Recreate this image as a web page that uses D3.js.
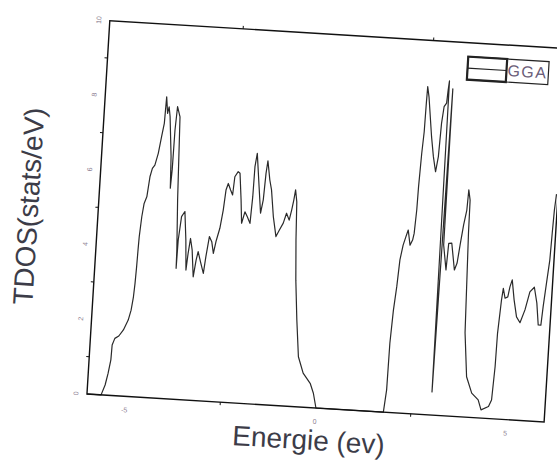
<!DOCTYPE html>
<html><head><meta charset="utf-8">
<script src="https://cdn.jsdelivr.net/npm/d3@7"></script>
<style>html,body{margin:0;padding:0;background:#fff}</style>
</head><body>
<script>
// ---- data ----
const energy = [-6.00,-5.63,-5.54,-5.48,-5.43,-5.42,-5.36,-5.26,-5.15,-5.04,-4.98,-4.94,-4.92,-4.905,-4.895,-4.885,-4.85,-4.81,-4.75,-4.70,-4.65,-4.59,-4.52,-4.46,-4.41,-4.40,-4.39,-4.34,-4.31,-4.27,-4.18,-4.15,-4.13,-4.12,-4.09,-4.01,-3.94,-3.88,-3.87,-3.86,-3.81,-3.73,-3.66,-3.61,-3.58,-3.54,-3.48,-3.41,-3.36,-3.32,-3.23,-3.15,-3.11,-3.05,-2.98,-2.92,-2.87,-2.79,-2.73,-2.69,-2.64,-2.57,-2.51,-2.48,-2.40,-2.35,-2.28,-2.23,-2.16,-2.09,-2.01,-1.98,-1.97,-1.93,-1.83,-1.75,-1.70,-1.67,-1.64,-1.56,-1.50,-1.41,-1.31,-1.23,-1.14,-1.07,-0.99,-0.94,-0.90,-0.87,-0.82,-0.78,-0.72,-0.63,-0.53,-0.38,-0.18,-0.08,0.01,
  1.78,1.83,1.84,1.88,1.93,1.97,2.03,2.09,2.14,2.21,2.27,2.30,2.33,2.34,2.37,2.40,2.41,2.42,2.47,2.60,2.68,2.76,2.81,2.84,2.88,2.94,2.96,2.98,3.02,3.08,3.09,3.19,3.22,3.30,3.41,3.47,3.52,3.58,3.64,3.66,3.71,3.72,3.79,3.90,4.06,4.24,4.33,4.52,4.59,4.63,4.64,4.69,4.72,4.78,4.85,4.89,4.94,5.02,5.11,5.21,5.32,5.42,5.53,5.62,5.69,5.76,5.79,5.84,5.89,5.91,5.93,5.96];
const tdos = [0,0,0.27,0.59,0.95,1.35,1.53,1.60,1.77,2.04,2.31,2.67,3.03,3.48,3.93,4.28,4.82,5.18,5.36,5.90,6.13,6.22,6.54,6.99,7.35,7.71,8.06,7.62,7.80,7.54,6.47,5.63,6.12,7.19,7.82,7.55,5.33,3.99,3.50,4.26,4.89,5.03,4.27,3.47,3.92,4.32,4.02,3.30,3.75,3.98,3.67,3.41,3.86,4.40,4.27,3.96,4.28,4.64,5.13,5.67,5.85,5.68,5.55,6.04,6.18,6.14,5.43,4.81,5.12,4.99,4.82,5.53,6.34,6.70,5.81,5.11,5.47,6.18,6.52,6.01,5.75,5.04,4.51,4.69,4.88,5.15,4.97,5.25,5.52,5.79,5.47,4.45,3.38,2.32,1.34,0.91,0.65,0.39,0,
  0,0.60,1.85,2.74,3.37,4.09,4.49,4.72,4.90,4.50,4.64,4.82,5.45,6.07,6.97,7.55,8.31,8.76,8.49,7.43,6.90,6.50,6.91,7.80,8.25,8.35,8.70,8.95,0.62,8.74,4.56,3.90,4.61,4.62,3.91,4.10,4.59,5.13,5.53,6.07,5.80,4.92,2.25,1.08,0.65,0.48,0.22,0.32,0.50,1.40,2.29,3.18,3.50,3.24,3.28,3.55,3.74,3.21,2.76,2.61,2.96,3.45,3.58,3.16,2.58,2.58,3.07,3.71,4.33,5.05,5.67,6.10];
const xLabels = [-5, 0, 5];
const yLabels = [0, 2, 4, 6, 8, 10];
const xTicks = [-2.5, 2.5];
const yTicks = [1, 3, 5, 7, 9];
const seriesName = "GGA";
const xTitle = "Energie (ev)";
const yTitle = "TDOS(stats/eV)";

// ---- drawing ----
const Wd = 557, Ht = 464;
const W = 458, H = 374;
const svg = d3.select("body").append("svg").attr("width", Wd).attr("height", Ht)
  .style("background", "#fff");
const g = svg.append("g").attr("transform", "translate(109.8,20.7) rotate(3.5)");

const x = d3.scaleLinear().domain([-6, 6]).range([0, W]);
const y = d3.scaleLinear().domain([0, 10]).range([H, 0]);

const font = "'Liberation Sans', Arial, sans-serif";

// curve
const pts = energy.map((e, i) => [e, tdos[i]]);
g.append("path").datum(pts)
  .attr("d", d3.line().x(d => x(d[0])).y(d => y(d[1])))
  .attr("fill", "none").attr("stroke", "#2a2a2a").attr("stroke-width", 1.2)
  .attr("stroke-linejoin", "round");

// frame
g.append("rect").attr("x", 0).attr("y", 0).attr("width", W).attr("height", H)
  .attr("fill", "none").attr("stroke", "#111").attr("stroke-width", 1.4);

// ticks (outward)
g.selectAll("line.xb").data(xTicks).enter().append("line")
  .attr("x1", d => x(d)).attr("x2", d => x(d)).attr("y1", H).attr("y2", H + 3)
  .attr("stroke", "#111").attr("stroke-width", 1);
g.selectAll("line.xt").data(xTicks).enter().append("line")
  .attr("x1", d => x(d)).attr("x2", d => x(d)).attr("y1", 0).attr("y2", -3)
  .attr("stroke", "#111").attr("stroke-width", 1);
g.selectAll("line.yl").data(yTicks).enter().append("line")
  .attr("x1", 0).attr("x2", -3).attr("y1", d => y(d)).attr("y2", d => y(d))
  .attr("stroke", "#111").attr("stroke-width", 1);

// tick labels
g.selectAll("text.xl").data(xLabels).enter().append("text")
  .attr("x", d => x(d)).attr("y", H + 16)
  .attr("text-anchor", "middle").attr("font-family", font).attr("font-size", 7)
  .attr("fill", "#8e7f92").text(d => d);
g.selectAll("text.yl").data(yLabels).enter().append("text")
  .attr("transform", d => `translate(-11,${y(d)}) rotate(-90)`)
  .attr("text-anchor", "middle").attr("dy", "0.35em")
  .attr("font-family", font).attr("font-size", 7)
  .attr("fill", "#8e7f92").text(d => d);

// axis titles
g.append("text").attr("x", 224).attr("y", H + 42)
  .attr("text-anchor", "middle").attr("font-family", font).attr("font-size", 28)
  .attr("fill", "#3c3c48").text(xTitle);
g.append("text").attr("transform", `translate(-60,${H / 2 + 3}) rotate(-90)`)
  .attr("text-anchor", "middle").attr("font-family", font).attr("font-size", 28)
  .attr("fill", "#3c3c48").text(yTitle);

// legend
const lg = g.append("g");
lg.append("rect").attr("x", 360).attr("y", 14).attr("width", 81).attr("height", 23)
  .attr("fill", "#fff").attr("stroke", "#222").attr("stroke-width", 1.2);
lg.append("rect").attr("x", 360).attr("y", 14).attr("width", 39).attr("height", 23)
  .attr("fill", "none").attr("stroke", "#222").attr("stroke-width", 2.2);
lg.append("line").attr("x1", 360).attr("x2", 399).attr("y1", 25.5).attr("y2", 25.5)
  .attr("stroke", "#222").attr("stroke-width", 1.2);
lg.append("text").attr("x", 420).attr("y", 31)
  .attr("text-anchor", "middle").attr("font-family", font).attr("font-size", 16)
  .attr("letter-spacing", 1.5).attr("fill", "#6a5c78").text(seriesName);
</script>
</body></html>
